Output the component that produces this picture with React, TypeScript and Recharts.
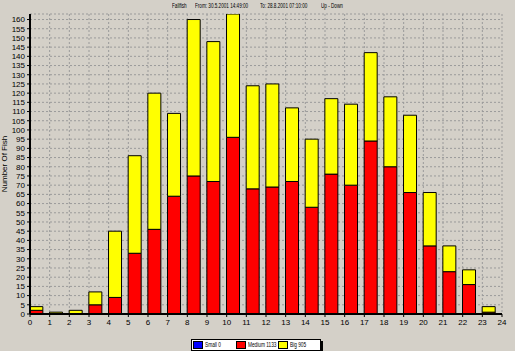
import { BarChart, Bar, XAxis, YAxis, CartesianGrid } from 'recharts';

const hours = [0, 1, 2, 3, 4, 5, 6, 7, 8, 9, 10, 11, 12, 13, 14, 15, 16, 17, 18, 19, 20, 21, 22, 23];
const small = [0, 0, 0, 0, 0, 0, 0, 0, 0, 0, 0, 0, 0, 0, 0, 0, 0, 0, 0, 0, 0, 0, 0, 0];
const medium = [2, 0, 0, 5, 9, 33, 46, 64, 75, 72, 96, 68, 69, 72, 58, 76, 70, 94, 80, 66, 37, 23, 16, 1];
const big = [2, 1, 2, 7, 36, 53, 74, 45, 85, 76, 67, 56, 56, 40, 37, 41, 44, 48, 38, 42, 29, 14, 8, 3];

const legendItems = [
  { name: 'Small', total: 0, color: '#0000ff' },
  { name: 'Medium', total: 1133, color: '#ff0000' },
  { name: 'Big', total: 905, color: '#ffff00' },
];

// header pieces, laid out along the top strip
const titleParts = [
  { text: 'Fallfish', x: 172 },
  { text: 'From: 30.5.2001 14:49:00', x: 195 },
  { text: 'To: 28.8.2001 07:10:00', x: 260 },
  { text: 'Up - Down', x: 321 },
];

const xTicks = Array.from({ length: 25 }, (_, i) => i);
const yTicks = Array.from({ length: 33 }, (_, i) => i * 5);

const data = hours.map((h, i) => ({ hour: h, small: small[i], medium: medium[i], big: big[i] }));

const font = '"Liberation Sans", Arial, sans-serif';
const tick = { fontSize: 8, fill: '#000', fontFamily: font };

export default function App() {
  return (
    <div style={{ position: 'absolute', left: 0, top: 0, width: 515, height: 351, background: '#d4d0c8', fontFamily: font }}>
      {titleParts.map((p) => (
        <div
          key={p.text}
          style={{ position: 'absolute', top: 1, left: p.x, fontSize: 7, lineHeight: '10px', whiteSpace: 'nowrap', color: '#000', transform: 'scaleX(0.66)', transformOrigin: 'left' }}
        >
          {p.text}
        </div>
      ))}
      <BarChart width={515} height={351} data={data} margin={{ top: 14, right: 13, left: 0, bottom: 25 }} barSize={13}>
        <CartesianGrid stroke="#9a9a9a" strokeDasharray="2 2" />
        <XAxis
          type="number"
          dataKey={(d: { hour: number }) => d.hour + 0.34}
          domain={[0, 24]}
          ticks={xTicks}
          interval={0}
          tick={tick}
          tickLine={{ stroke: '#000' }}
          tickSize={3}
          axisLine={{ stroke: '#000', strokeWidth: 2 }}
          height={12}
          allowDataOverflow
        />
        <XAxis xAxisId="top" orientation="top" type="number" domain={[0, 24]} tick={false} tickLine={false} axisLine={{ stroke: '#404040' }} height={0} />
        <YAxis
          domain={[0, 163]}
          ticks={yTicks}
          interval={0}
          tick={tick}
          tickLine={{ stroke: '#000' }}
          tickSize={3}
          width={30}
          axisLine={{ stroke: '#000', strokeWidth: 2 }}
          allowDataOverflow
          label={{ value: 'Number Of Fish', angle: -90, position: 'insideLeft', offset: 4, style: { fontSize: 8, fill: '#000', fontFamily: font, textAnchor: 'middle' } }}
        />
        <YAxis yAxisId="right" orientation="right" domain={[0, 163]} tick={false} tickLine={false} width={0} axisLine={{ stroke: '#404040' }} />
        <Bar dataKey="small" stackId="a" fill="#0000ff" stroke="#000" strokeWidth={1} isAnimationActive={false} />
        <Bar dataKey="medium" stackId="a" fill="#ff0000" stroke="#000" strokeWidth={1} isAnimationActive={false} />
        <Bar dataKey="big" stackId="a" fill="#ffff00" stroke="#000" strokeWidth={1} isAnimationActive={false} />
      </BarChart>
      <div
        style={{
          position: 'absolute', left: 191, top: 339, width: 128, height: 10, background: '#fff',
          border: '1px solid #000', boxShadow: '2px 2px 0 #000', fontSize: 7,
        }}
      >
        {legendItems.map((it, i) => (
          <div key={it.name} style={{ position: 'absolute', left: 1 + i * 42.5, top: 1, height: 8, whiteSpace: 'nowrap' }}>
            <span style={{ position: 'absolute', left: 0, top: 0, width: 8, height: 6, background: it.color, border: '1px solid #000' }} />
            <span style={{ position: 'absolute', left: 12, top: -1, lineHeight: '10px', transform: 'scaleX(0.68)', transformOrigin: 'left' }}>
              {`${it.name} ${it.total}`}
            </span>
          </div>
        ))}
      </div>
    </div>
  );
}
